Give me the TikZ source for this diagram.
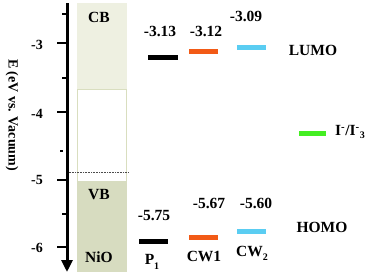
\documentclass[tikz,border=0pt]{standalone}
\usepackage{fontspec}
\setmainfont{Liberation Serif}
\usetikzlibrary{arrows.meta}
\definecolor{cbfill}{HTML}{EEF0E1}
\definecolor{vbfill}{HTML}{D7DCC0}
\definecolor{gapline}{HTML}{D9DEBF}
\definecolor{lvorange}{HTML}{F25A16}
\definecolor{lvcyan}{HTML}{5ACDF2}
\definecolor{lvgreen}{HTML}{44EE22}
\begin{document}
\begin{tikzpicture}[x=1pt,y=-1pt,
  lbl/.style={inner sep=0pt,font=\fontsize{15.5}{17}\selectfont\bfseries},
  tlbl/.style={inner sep=0pt,font=\fontsize{14}{16}\selectfont\bfseries},
  lvl/.style={line width=5pt},
  tick/.style={line width=1.2pt}]
\useasboundingbox (0,0) rectangle (366,276);
% NiO band box
\fill[cbfill] (77,3) rectangle (127,89);
\draw[gapline,line width=0.8pt] (77.5,89) rectangle (126.5,181);
\fill[vbfill] (77,181) rectangle (127,272);
\draw[densely dotted,line width=0.6pt,black!70] (67,172) -- (128,172);
% axis
\coordinate (top) at (67,3);
\coordinate (bot) at (67,272);
\draw[line width=3pt,-{Triangle[width=11pt,length=12pt]}] (top) -- (bot);
\foreach \y in {43,112,180,247} \draw[tick] (57,\y) -- (67,\y);
\foreach \y in {14,78,214} \draw[tick] (62,\y) -- (67,\y);
\draw[tick] (60,151) -- (63,151);
\node[tlbl] (t3) at (37,45) {-3};
\node[tlbl] (t4) at (37,114) {-4};
\node[tlbl] (t5) at (37,180) {-5};
\node[tlbl] (t6) at (37,248) {-6};
\node[tlbl,rotate=-90] (ax) at (12,115) {E (eV vs. Vacuum)};
% band labels
\node[lbl] (cb) at (99,17) {CB};
\node[lbl] (vb) at (99,195) {VB};
\node[lbl] (nio) at (99,257) {NiO};
% LUMO levels
\draw[lvl,black] (148,57) -- (178,57);
\draw[lvl,lvorange] (189,51) -- (218,51);
\draw[lvl,lvcyan] (237,47) -- (266,47);
\node[lbl] (l1) at (160,31) {-3.13};
\node[lbl] (l2) at (206,31) {-3.12};
\node[lbl] (l3) at (246,16) {-3.09};
\node[lbl] (lumo) at (313,50) {LUMO};
% redox
\draw[lvl,lvgreen] (299,133) -- (326,133);
\node[lbl] (redox) at (350,132) {I\textsuperscript{-}/I\textsuperscript{-}\raisebox{-0.5ex}{\fontsize{10}{11}\selectfont 3}};
% HOMO levels
\draw[lvl,black] (139,241) -- (168,241);
\draw[lvl,lvorange] (189,237) -- (218,237);
\draw[lvl,lvcyan] (237,231) -- (266,231);
\node[lbl] (h1) at (154,216) {-5.75};
\node[lbl] (h2) at (209,203) {-5.67};
\node[lbl] (h3) at (256,203) {-5.60};
\node[lbl] (homo) at (322,227) {HOMO};
% dye names
\node[lbl] (p1) at (152,262) {P\raisebox{-0.6ex}{\fontsize{10}{11}\selectfont 1}};
\node[lbl] (cw1) at (204,256) {CW1};
\node[lbl] (cw2) at (252,253) {CW\raisebox{-0.6ex}{\fontsize{10}{11}\selectfont 2}};
\end{tikzpicture}
\end{document}
